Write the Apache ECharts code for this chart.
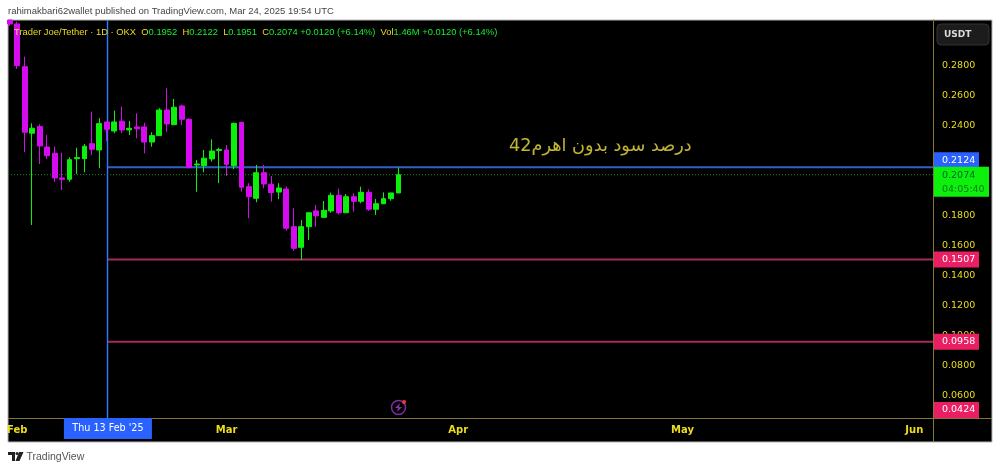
<!DOCTYPE html>
<html><head><meta charset="utf-8">
<style>html,body{margin:0;padding:0;background:#fff}#c{width:1000px;height:471px;filter:blur(0.35px)}</style>
<script src="https://cdn.jsdelivr.net/npm/echarts@6/dist/echarts.min.js"></script>
</head><body><div id="c"></div>
<script>
const opens =[0.3107,0.3081,0.2795,0.2351,0.2395,0.2259,0.2217,0.2052,0.2043,0.2181,0.2181,0.2281,0.2239,0.2426,0.2366,0.2431,0.2373,0.2393,0.2393,0.2292,0.2335,0.2506,0.2408,0.2533,0.2444,0.2139,0.2134,0.2179,0.2236,0.2239,0.2134,0.2424,0.1994,0.1916,0.2087,0.2010,0.1958,0.1978,0.1727,0.1589,0.1727,0.1832,0.1789,0.1832,0.1936,0.1820,0.1927,0.1896,0.1956,0.1843,0.1880,0.1914,0.1952];
const closes=[0.3081,0.2802,0.2357,0.2384,0.2266,0.2201,0.2052,0.2043,0.2174,0.2188,0.2264,0.2244,0.2415,0.2377,0.2426,0.2373,0.2384,0.2381,0.2292,0.2335,0.2506,0.2413,0.2524,0.2444,0.2121,0.2145,0.2184,0.2232,0.2242,0.2143,0.2417,0.1990,0.1927,0.2087,0.2012,0.1954,0.1985,0.1716,0.1582,0.1727,0.1820,0.1800,0.1836,0.1936,0.1820,0.1927,0.1896,0.1956,0.1843,0.1880,0.1914,0.1952,0.2074];
const lows  =[0.3067,0.2780,0.2224,0.1738,0.2145,0.2179,0.2027,0.1972,0.2027,0.2079,0.2090,0.2206,0.2117,0.2299,0.2351,0.2351,0.2339,0.2317,0.2217,0.2261,0.2335,0.2361,0.2408,0.2406,0.2117,0.1960,0.2090,0.2161,0.2017,0.2065,0.2110,0.1960,0.1783,0.1890,0.1983,0.1894,0.1910,0.1700,0.1566,0.1504,0.1638,0.1727,0.1789,0.1820,0.1809,0.1820,0.1827,0.1883,0.1832,0.1805,0.1878,0.1900,0.1951];
const highs =[0.3107,0.3096,0.2862,0.2417,0.2411,0.2339,0.2261,0.2221,0.2190,0.2254,0.2279,0.2495,0.2451,0.2428,0.2502,0.2528,0.2433,0.2484,0.2421,0.2357,0.2518,0.2651,0.2580,0.2542,0.2451,0.2172,0.2239,0.2310,0.2254,0.2272,0.2421,0.2426,0.2017,0.2139,0.2139,0.2065,0.2017,0.1994,0.1850,0.1771,0.1820,0.1872,0.1898,0.1954,0.1981,0.1945,0.1950,0.1994,0.1976,0.1912,0.1956,0.1952,0.2122];
const monthNames=['Jan','Feb','Mar','Apr','May','Jun'];
const monthStarts=['Feb','Mar','Apr','May','Jun'];
const monthDays=[31,28,31,30,31,30];
const yTicks=[0.06,0.08,0.10,0.12,0.14,0.16,0.18,0.24,0.26,0.28];
const priceLevels=[0.2124,0.2074,0.1507,0.0958,0.0424];
const crosshairDate='Feb 13';
const crosshairLabel="Thu 13 Feb '25";
const countdown='04:05:40';
const noteText='درصد سود بدون اهرم42';
const noteValue=0.2266, noteDate='Apr 20';

const categories=[];
monthNames.forEach((m,i)=>{for(let d=(i===0?31:1);d<=monthDays[i];d++){categories.push(m+' '+d);}});
categories.length=124;
const candles=opens.map((o,i)=>[o,closes[i],lows[i],highs[i]]);
const GOLD='#ecdc1c',GREEN='#0cf00c',PURPLE='#d60cf0',BLUE='#2962ff',PINK='#e91e63';
const FONT='"DejaVu Sans"',SANS='"Liberation Sans"';
const AXIS='#857636';
const crossIdx=categories.indexOf(crosshairDate);

function renderLines(params,api){
  const i=params.dataIndex,cs=params.coordSys,v=api.value(0);
  if(i===4)return null;
  const y=api.coord([0,v])[1];
  const x0=i===1?cs.x+2:api.coord([crossIdx,v])[0];
  const col=i===0?'#2f5fc4':i===1?'#1b8a1b':'#a82a5c';
  return {type:'line',shape:{x1:x0,y1:y,x2:cs.x+cs.width,y2:y},
    style:{stroke:col,lineWidth:i===1?1:2,lineDash:i===1?[1,2]:null}};
}
function renderTags(params,api){
  const i=params.dataIndex,cs=params.coordSys,v=api.value(0);
  const bottom=cs.y+cs.height;
  let y=api.coord([0,v])[1];
  const x=cs.x+cs.width+1;
  const txt=v.toFixed(4);
  if(i===1){
    return {type:'group',children:[
      {type:'rect',shape:{x:x,y:y-8,width:55,height:30},style:{fill:GREEN}},
      {type:'text',style:{x:x+8,y:y+0.5,text:txt,fill:'#063',font:'9.5px '+FONT,textVerticalAlign:'middle'}},
      {type:'text',style:{x:x+8,y:y+14.5,text:countdown,fill:'#0a7a1a',font:'9.5px '+FONT,textVerticalAlign:'middle'}}
    ]};
  }
  if(i===4)y=Math.min(y,bottom-8);
  if(i===0)y-=7;
  return {type:'group',children:[
    {type:'rect',shape:{x:x,y:y-8,width:45,height:16},style:{fill:i===0?BLUE:PINK}},
    {type:'text',style:{x:x+8,y:y,text:txt,fill:'#fff',font:'9.5px '+FONT,textVerticalAlign:'middle'}}
  ]};
}
function renderCross(params,api){
  const cs=params.coordSys;
  const x=Math.round(api.coord([api.value(0),0.1])[0])+0.5;
  const b=cs.y+cs.height;
  return {type:'line',shape:{x1:x,y1:cs.y,x2:x,y2:b},style:{stroke:'#2f7bff',lineWidth:1.4}};
}
function renderCrossTag(params,api){
  const cs=params.coordSys;
  const x=api.coord([api.value(0),0.1])[0];
  const b=cs.y+cs.height;
  return {type:'group',children:[
    {type:'rect',shape:{x:x-43,y:b,width:88,height:21},style:{fill:BLUE}},
    {type:'text',style:{x:x+1,y:b+10.5,text:crosshairLabel,fill:'#fff',font:'9.6px '+FONT,textAlign:'center',textVerticalAlign:'middle'}}
  ]};
}
const lg=(t,s)=>'{'+s+'|'+t+'}';
const legendText=lg('Trader Joe/Tether · 1D · OKX','y')+'  '+lg('O','y')+lg('0.1952','g')+'  '+lg('H','y')+lg('0.2122','g')+'  '+lg('L','y')+lg('0.1951','g')+'  '+lg('C','y')+lg('0.2074 +0.0120 (+6.14%)','g')+'  '+lg('Vol','y')+lg('1.46M','g')+' '+lg('+0.0120 (+6.14%)','g');
const gline=(x1,y1,x2,y2,c)=>({type:'line',silent:true,shape:{x1,y1,x2,y2},style:{stroke:c,lineWidth:1},z:1});

const chart=echarts.init(document.getElementById('c'),null,{renderer:'canvas'});
chart.setOption({
  animation:false,
  backgroundColor:'#fff',
  grid:{left:6,top:20,width:927,height:398,containLabel:false},
  xAxis:{type:'category',data:categories,boundaryGap:true,
    axisLine:{show:false},axisTick:{show:false},splitLine:{show:false},
    axisLabel:{color:GOLD,fontFamily:FONT,fontSize:10,fontWeight:'bold',margin:7,hideOverlap:false,
      interval:(i,v)=>/ 1$/.test(v)&&monthStarts.includes(v.split(' ')[0]),
      formatter:v=>v.split(' ')[0]}},
  yAxis:{type:'value',position:'right',min:0.0449,max:0.3107,scale:true,
    axisLine:{show:true,lineStyle:{color:AXIS,width:1}},axisTick:{show:false},splitLine:{show:false},
    axisLabel:{color:GOLD,fontFamily:FONT,fontSize:9.5,margin:9,customValues:yTicks,formatter:v=>v.toFixed(4)}},
  series:[
    {type:'custom',name:'lines',renderItem:renderLines,data:priceLevels.map(v=>[v]),encode:{y:0},z:1,clip:false,silent:true},
    {type:'custom',name:'cross',renderItem:renderCross,data:[[crossIdx]],encode:{x:0},z:1,clip:false,silent:true},
    {type:'candlestick',data:candles,barWidth:5.4,z:3,
      itemStyle:{color:GREEN,color0:PURPLE,borderColor:GREEN,borderColor0:PURPLE,borderWidth:1}},
    {type:'custom',name:'tags',renderItem:renderTags,data:priceLevels.map(v=>[v]),encode:{y:0},z:6,clip:false,silent:true},
    {type:'custom',name:'crosstag',renderItem:renderCrossTag,data:[[crossIdx]],encode:{x:0},z:6,clip:false,silent:true},
    {type:'scatter',name:'note',symbolSize:0,silent:true,z:6,
      data:[[noteDate,noteValue]],
      label:{show:true,position:'inside',formatter:noteText,color:'#f0e040',fontFamily:FONT,fontSize:17.7}}
  ],
  graphic:[
    {type:'rect',silent:true,z:-1,shape:{x:8,y:20,width:984,height:422},style:{fill:'#000',stroke:'#b5b5b5',lineWidth:1}},
    gline(8,418.5,992,418.5,AXIS),gline(933.5,418,933.5,442,AXIS),
    {type:'text',silent:true,z:5,style:{x:8,y:11,text:'rahimakbari62wallet published on TradingView.com, Mar 24, 2025 19:54 UTC',fill:'#444',font:'9.5px '+SANS,textVerticalAlign:'middle'}},
    {type:'text',silent:true,z:5,style:{x:14,y:32,text:legendText,textVerticalAlign:'middle',font:'9.4px '+SANS,
      rich:{y:{fill:GOLD,font:'9.4px '+SANS},g:{fill:'#10f030',font:'9.4px '+SANS}}}},
    {type:'rect',silent:true,z:5,shape:{x:937,y:24,width:52,height:21,r:4},style:{fill:'#1c1c1c',stroke:'#333',lineWidth:1}},
    {type:'text',silent:true,z:6,style:{x:944,y:35,text:'USDT',fill:'#ddd',font:'bold 9px '+FONT,textVerticalAlign:'middle'}},
    {type:'circle',silent:true,z:5,shape:{cx:398.5,cy:407.5,r:7},style:{fill:'#000',stroke:'#7a2f9e',lineWidth:1.5}},
    {type:'polygon',silent:true,z:6,shape:{points:[[400,403],[395,408],[398,408],[397,412],[402,407],[399,407]]},style:{fill:'#8a2fb0'}},
    {type:'circle',silent:true,z:6,shape:{cx:404,cy:402,r:2},style:{fill:'#f23645'}},
    {type:'polygon',silent:true,z:5,shape:{points:[[8,452],[15,452],[15,461],[12,461],[12,455],[8,455]]},style:{fill:'#222'}},
    {type:'circle',silent:true,z:5,shape:{cx:17,cy:453.5,r:1.5},style:{fill:'#222'}},
    {type:'polygon',silent:true,z:5,shape:{points:[[19,452],[23.5,452],[19.5,461],[15.5,461]]},style:{fill:'#222'}},
    {type:'text',silent:true,z:5,style:{x:26.5,y:457,text:'TradingView',fill:'#555',font:'10.5px '+SANS,textVerticalAlign:'middle'}}
  ]
});
</script></body></html>
